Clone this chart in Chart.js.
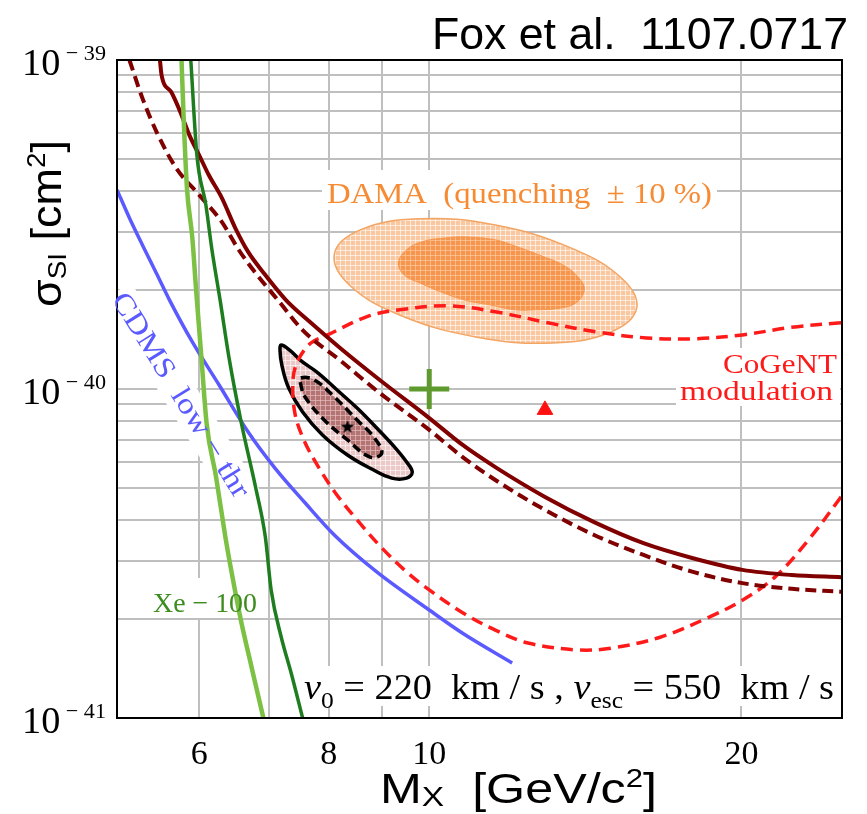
<!DOCTYPE html>
<html>
<head>
<meta charset="utf-8">
<script src="https://cdn.jsdelivr.net/npm/chart.js@4.4.0/dist/chart.umd.min.js"></script>
<style>
  html, body { margin: 0; padding: 0; background: #fff; }
  #wrap { width: 867px; height: 814px; }
</style>
</head>
<body>
<div id="wrap"><canvas id="plot" width="867" height="814"></canvas></div>
<script>
// WIMP mass in GeV/c^2, spin-independent cross section in cm^2

// axes
const massGrid = [5, 6, 7, 8, 9, 10, 20, 25];
const massLabels = [6, 8, 10, 20];
const sigmaGrid = [
  1e-41, 2e-41, 3e-41, 4e-41, 5e-41, 6e-41, 7e-41, 8e-41, 9e-41,
  1e-40, 2e-40, 3e-40, 4e-40, 5e-40, 6e-40, 7e-40, 8e-40, 9e-40, 1e-39
];
const sigmaDecades = [-41, -40, -39];

// Xe-100 limits (light and dark green)
const xeLightM = [5.77, 5.80, 5.84, 5.91, 5.96, 6.03, 6.10, 6.23, 6.36, 6.45, 6.59, 6.74, 6.92];
const xeLightS = [1.0e-39, 6.43e-40, 4.08e-40, 2.88e-40, 2.0e-40, 1.25e-40, 7.88e-41, 5.40e-41, 3.55e-41, 2.76e-41, 1.95e-41, 1.43e-41, 1.0e-41];
const xeDarkM = [5.89, 5.97, 6.09, 6.17, 6.29, 6.41, 6.59, 6.80, 6.95, 7.04, 7.20, 7.36, 7.55];
const xeDarkS = [1.0e-39, 5.14e-40, 3.63e-40, 2.68e-40, 1.84e-40, 1.25e-40, 7.88e-41, 5.04e-41, 3.55e-41, 2.45e-41, 1.76e-41, 1.37e-41, 1.0e-41];

// CDMS low threshold
const cdmsM = [5.00, 5.14, 5.29, 5.46, 5.62, 5.91, 6.27, 6.69, 7.10, 7.59, 8.10, 8.90, 10.0, 10.77, 12.02];
const cdmsS = [4.03e-40, 3.31e-40, 2.74e-40, 2.24e-40, 1.86e-40, 1.39e-40, 1.03e-40, 7.40e-41, 5.75e-41, 4.51e-41, 3.60e-41, 2.78e-41, 2.13e-41, 1.81e-41, 1.47e-41];

// dark red bounds, solid and dashed
const boundM = [5.50, 5.52, 5.64, 5.77, 5.87, 6.00, 6.13, 6.31, 6.50, 6.69, 6.95, 7.28, 7.67, 8.21, 8.96, 10.0, 10.77, 11.58, 12.93, 14.42, 16.09, 17.96, 20.04, 22.36, 24.95];
const boundS = [1.0e-39, 9.0e-40, 7.99e-40, 6.81e-40, 5.92e-40, 5.14e-40, 4.47e-40, 3.81e-40, 3.09e-40, 2.61e-40, 2.22e-40, 1.86e-40, 1.60e-40, 1.33e-40, 1.065e-40, 8.16e-41, 6.76e-41, 5.79e-41, 4.70e-41, 3.94e-41, 3.40e-41, 3.06e-41, 2.82e-41, 2.72e-41, 2.68e-41];
const boundDashM = [5.14, 5.29, 5.46, 5.70, 6.00, 6.31, 6.55, 6.81, 7.15, 7.55, 8.21, 8.96, 10.0, 10.77, 11.58, 12.93, 14.42, 16.09, 17.96, 20.04, 22.36, 24.95];
const boundDashS = [1.0e-39, 7.66e-40, 6.04e-40, 4.70e-40, 3.89e-40, 3.22e-40, 2.65e-40, 2.24e-40, 1.86e-40, 1.51e-40, 1.22e-40, 9.72e-41, 7.51e-41, 6.21e-41, 5.29e-41, 4.29e-41, 3.60e-41, 3.13e-41, 2.78e-41, 2.57e-41, 2.47e-41, 2.42e-41];

// CoGeNT modulation contour (open at the right edge)
const cogentM = [24.95, 22.36, 20.04, 17.96, 16.20, 14.52, 13.01, 11.66, 10.45, 9.36, 8.71, 7.98, 7.69, 7.47, 7.39, 7.42, 7.57, 7.81, 8.12, 8.52, 9.00, 9.51, 10.0, 10.77, 11.58, 12.45, 13.90, 14.97, 16.70, 18.64, 20.04, 21.54, 23.21, 24.95];
const cogentS = [1.59e-40, 1.54e-40, 1.46e-40, 1.42e-40, 1.43e-40, 1.49e-40, 1.59e-40, 1.71e-40, 1.79e-40, 1.74e-40, 1.66e-40, 1.46e-40, 1.38e-40, 1.22e-40, 1.065e-40, 8.46e-41, 7.00e-41, 5.83e-41, 4.83e-41, 4.00e-41, 3.29e-41, 2.78e-41, 2.45e-41, 2.09e-41, 1.85e-41, 1.69e-41, 1.61e-41, 1.63e-41, 1.76e-41, 2.03e-41, 2.28e-41, 2.68e-41, 3.48e-41, 4.70e-41];

// CoGeNT spectral fit regions (closed: last point repeats the first)
const fitOuterM = [7.20, 7.34, 7.52, 7.81, 8.15, 8.52, 8.90, 9.26, 9.51, 9.63, 9.51, 9.20, 8.80, 8.34, 7.89, 7.55, 7.32, 7.21, 7.18, 7.20];
const fitOuterS = [1.36e-40, 1.31e-40, 1.22e-40, 1.12e-40, 9.93e-41, 8.75e-41, 7.61e-41, 6.66e-41, 6.00e-41, 5.59e-41, 5.36e-41, 5.36e-41, 5.71e-41, 6.30e-41, 7.25e-41, 8.51e-41, 1.007e-40, 1.18e-40, 1.31e-40, 1.36e-40];
const fitInnerM = [7.52, 7.75, 8.10, 8.52, 8.84, 9.00, 8.77, 8.34, 7.92, 7.59, 7.52, 7.52];
const fitInnerS = [1.08e-40, 1.065e-40, 9.46e-41, 8.05e-41, 7.15e-41, 6.39e-41, 6.21e-41, 7.00e-41, 8.05e-41, 9.46e-41, 1.03e-40, 1.08e-40];

// DAMA regions (closed)
const damaOuterM = [8.10, 8.57, 9.76, 11.58, 13.71, 15.33, 15.85, 14.97, 13.15, 11.09, 9.40, 8.39, 8.10];
const damaOuterS = [2.57e-40, 3.04e-40, 3.29e-40, 3.15e-40, 2.68e-40, 2.17e-40, 1.76e-40, 1.49e-40, 1.38e-40, 1.44e-40, 1.67e-40, 2.06e-40, 2.57e-40];
const damaInnerM = [9.34, 9.51, 9.83, 10.38, 10.84, 11.58, 12.10, 12.78, 13.50, 13.95, 14.11, 13.86, 13.35, 12.64, 12.10, 11.45, 10.84, 10.27, 9.83, 9.46, 9.34];
const damaInnerS = [2.42e-40, 2.65e-40, 2.80e-40, 2.88e-40, 2.90e-40, 2.84e-40, 2.72e-40, 2.55e-40, 2.37e-40, 2.17e-40, 2.00e-40, 1.83e-40, 1.76e-40, 1.74e-40, 1.74e-40, 1.80e-40, 1.86e-40, 1.97e-40, 2.09e-40, 2.22e-40, 2.42e-40];

// single points: best fit star, green cross, red triangle
const starM = [8.34], starS = [7.66e-41];
const crossM = [10.0], crossS = [1.0e-40];
const triM = [12.93], triS = [8.64e-41];

const SERIF = 'Liberation Serif';
const SANS = 'Liberation Sans';

const canvas = document.getElementById('plot');
const ctx0 = canvas.getContext('2d');

function hatch(base, line) {
  const c = document.createElement('canvas');
  c.width = c.height = 5;
  const g = c.getContext('2d');
  g.fillStyle = base;
  g.fillRect(0, 0, 5, 5);
  g.fillStyle = line;
  g.fillRect(0, 0, 5, 1);
  g.fillRect(0, 0, 1, 5);
  return ctx0.createPattern(c, 'repeat');
}

function starImage(r) {
  const s = Math.ceil(r * 2 + 2);
  const c = document.createElement('canvas');
  c.width = c.height = s;
  const g = c.getContext('2d');
  g.translate(s / 2, s / 2);
  g.beginPath();
  for (let i = 0; i < 10; i++) {
    const rr = i % 2 ? r * 0.42 : r;
    const a = -Math.PI / 2 + i * Math.PI / 5;
    g.lineTo(rr * Math.cos(a), rr * Math.sin(a));
  }
  g.closePath();
  g.fillStyle = '#000';
  g.fill();
  return c;
}

const pts = (m, s) => m.map((v, i) => ({ x: v, y: s[i] }));

// limit curves: x always increasing, so monotone splines keep them from overshooting
function curve(m, s, color, width, extra) {
  return Object.assign({
    data: pts(m, s),
    showLine: true,
    borderColor: color,
    borderWidth: width,
    pointRadius: 0,
    cubicInterpolationMode: 'monotone',
    fill: false,
    clip: 0
  }, extra || {});
}

// closed contours: one point of overlap on each end keeps the spline round
// at the seam, and those two extra segments are not stroked
function region(m, s, fillStyle, color, width, extra) {
  const n = m.length;
  const mm = [m[n - 2]].concat(m, [m[1]]);
  const ss = [s[n - 2]].concat(s, [s[1]]);
  const lastIdx = mm.length - 1;
  return curve(mm, ss, color, width, Object.assign({
    fill: 'shape',
    backgroundColor: fillStyle,
    cubicInterpolationMode: 'default',
    tension: 0.4,
    segment: {
      borderColor: c => (c.p0DataIndex === 0 || c.p1DataIndex === lastIdx) ? 'rgba(0,0,0,0)' : undefined
    }
  }, extra || {}));
}

function marker(m, s, style, radius, color, width) {
  return {
    data: pts(m, s),
    pointStyle: style,
    pointRadius: radius,
    pointBackgroundColor: color,
    pointBorderColor: color,
    pointBorderWidth: width,
    showLine: false,
    clip: false,
    order: 0
  };
}

// draws runs of text (for sub/superscripts) starting at x, baseline y
function runs(ctx, parts, x, y, color, fitWidth, angle) {
  let w = 0;
  for (const p of parts) { ctx.font = p.font; w += ctx.measureText(p.t).width; }
  const sx = fitWidth ? fitWidth / w : 1;
  ctx.save();
  ctx.translate(x, y);
  if (angle) ctx.rotate(angle);
  ctx.scale(sx, 1);
  ctx.fillStyle = color;
  ctx.textAlign = 'left';
  ctx.textBaseline = 'alphabetic';
  let cx = 0;
  for (const p of parts) {
    ctx.font = p.font;
    ctx.fillText(p.t, cx, p.dy || 0);
    cx += ctx.measureText(p.t).width;
  }
  ctx.restore();
  return w * sx;
}

const whiteBoxes = [
  [322, 170, 395, 40],   // DAMA label
  [676, 348, 164, 58],   // CoGeNT label
  [150, 578, 110, 40],   // Xe-100 label
  [296, 666, 544, 40]    // velocities
];
const cdmsAngle = Math.atan2(190, 118);
const cdmsAt = [181, 395];

const decor = {
  id: 'decor',
  beforeDatasetsDraw(chart) {
    const ctx = chart.ctx;
    ctx.save();
    ctx.fillStyle = '#fff';
    for (const b of whiteBoxes) ctx.fillRect(b[0], b[1], b[2], b[3]);
    // box under the slanted CDMS label
    ctx.translate(cdmsAt[0], cdmsAt[1]);
    ctx.rotate(cdmsAngle);
    ctx.fillRect(-122, -17, 244, 34);
    ctx.restore();
  },
  afterDatasetsDraw(chart) {
    const ctx = chart.ctx;
    const a = chart.chartArea;
    const xs = chart.scales.x, ys = chart.scales.y;

    ctx.save();
    ctx.strokeStyle = '#000';
    ctx.lineWidth = 2;
    ctx.strokeRect(a.left, a.top, a.right - a.left, a.bottom - a.top);
    ctx.restore();

    // tick labels
    ctx.save();
    ctx.font = '34px ' + SERIF;
    ctx.fillStyle = '#000';
    ctx.textAlign = 'center';
    for (const v of massLabels) ctx.fillText(String(v), xs.getPixelForValue(v), 764);
    ctx.restore();
    for (const e of sigmaDecades) {
      const py = ys.getPixelForValue(Math.pow(10, e));
      runs(ctx, [
        { t: '10', font: '38px ' + SERIF },
        { t: ' \u2212', font: '22px ' + SERIF, dy: -15 },
        { t: ' ' + Math.abs(e), font: '22px ' + SERIF, dy: -15 }
      ], 22, py + 15, '#000', 84);
    }

    // axis titles
    runs(ctx, [
      { t: 'M', font: '42px ' + SANS },
      { t: 'X', font: '28px ' + SANS, dy: 3 },
      { t: '  [GeV/c', font: '42px ' + SANS },
      { t: '2', font: '26px ' + SANS, dy: -16 },
      { t: ']', font: '42px ' + SANS }
    ], 380, 803, '#000', 277);
    runs(ctx, [
      { t: '\u03c3', font: '42px ' + SANS },
      { t: 'SI', font: '26px ' + SANS, dy: 5 },
      { t: ' [cm', font: '42px ' + SANS },
      { t: '2', font: '26px ' + SANS, dy: -16 },
      { t: ']', font: '42px ' + SANS }
    ], 61, 307, '#000', 167, -Math.PI / 2);

    // title
    runs(ctx, [{ t: 'Fox et al.  1107.0717', font: '44px ' + SANS }], 432, 49, '#000', 416);

    // labels inside the frame
    runs(ctx, [{ t: 'DAMA  (quenching  \u00b1 10 %)', font: '30px ' + SERIF }], 327, 203, '#f68b34', 385);
    runs(ctx, [{ t: 'CoGeNT', font: '28px ' + SERIF }], 723, 373, '#ff1a1a', 114);
    runs(ctx, [{ t: 'modulation', font: '28px ' + SERIF }], 680, 400, '#ff1a1a', 153);
    runs(ctx, [{ t: 'Xe \u2212 100', font: '28px ' + SERIF }], 153, 612, '#3c8c1e', 104);

    ctx.save();
    ctx.translate(cdmsAt[0], cdmsAt[1]);
    ctx.rotate(cdmsAngle);
    runs(ctx, [{ t: 'CDMS  low \u2212 thr', font: '29px ' + SERIF }], -118, 9, '#5a5aff', 236);
    ctx.restore();

    runs(ctx, [
      { t: 'v', font: 'italic 36px ' + SERIF },
      { t: '0', font: '24px ' + SERIF, dy: 9 },
      { t: ' = 220  km / s , ', font: '36px ' + SERIF },
      { t: 'v', font: 'italic 36px ' + SERIF },
      { t: 'esc', font: '24px ' + SERIF, dy: 9 },
      { t: ' = 550  km / s', font: '36px ' + SERIF }
    ], 304, 699, '#000', 530);
  }
};

const datasets = [
  marker(starM, starS, starImage(7), 7, '#000', 0),
  marker(crossM, crossS, 'cross', 20, '#5f9a2e', 5),
  marker(triM, triS, 'triangle', 9, '#ff1010', 1),
  curve(xeLightM, xeLightS, '#7cc044', 4.5, { order: 1 }),
  curve(xeDarkM, xeDarkS, '#1e7d1e', 3.5, { order: 1 }),
  curve(cdmsM, cdmsS, '#5a5aff', 3.5, { order: 1 }),
  curve(boundM, boundS, '#800000', 4, { order: 2 }),
  curve(boundDashM, boundDashS, '#800000', 4, { order: 2, borderDash: [11, 6] }),
  curve(cogentM, cogentS, '#ff1a1a', 3.5, { order: 3, borderDash: [12, 7], cubicInterpolationMode: 'default', tension: 0.35 }),
  region(fitInnerM, fitInnerS, hatch('#b47474', 'rgba(230,190,190,0.7)'), '#000', 3.5, { order: 4, borderDash: [9, 5] }),
  region(fitOuterM, fitOuterS, hatch('#ebc9c9', 'rgba(255,255,255,0.6)'), '#000', 3.5, { order: 5 }),
  region(damaInnerM, damaInnerS, hatch('#f6964e', 'rgba(255,210,170,0.6)'), 'rgba(246,150,78,0.9)', 1, { order: 6 }),
  region(damaOuterM, damaOuterS, hatch('#f9c8a0', 'rgba(255,255,255,0.6)'), '#f3a564', 1.5, { order: 7 })
];

new Chart(canvas, {
  type: 'scatter',
  data: { datasets },
  options: {
    responsive: false,
    animation: false,
    layout: { padding: { left: 117, top: 60, right: 16, bottom: 96 } },
    plugins: {
      legend: { display: false },
      tooltip: { enabled: false },
      filler: { propagate: false }
    },
    scales: {
      x: {
        type: 'logarithmic',
        min: 5,
        max: 25,
        afterBuildTicks: (axis) => { axis.ticks = massGrid.map(v => ({ value: v })); },
        ticks: { display: false },
        grid: { color: '#bfbfbf', lineWidth: 2, drawTicks: false },
        border: { display: false }
      },
      y: {
        type: 'logarithmic',
        min: 1e-41,
        max: 1e-39,
        afterBuildTicks: (axis) => { axis.ticks = sigmaGrid.map(v => ({ value: v })); },
        ticks: { display: false },
        grid: { color: '#bfbfbf', lineWidth: 2, drawTicks: false },
        border: { display: false }
      }
    }
  },
  plugins: [decor]
});
</script>
</body>
</html>
